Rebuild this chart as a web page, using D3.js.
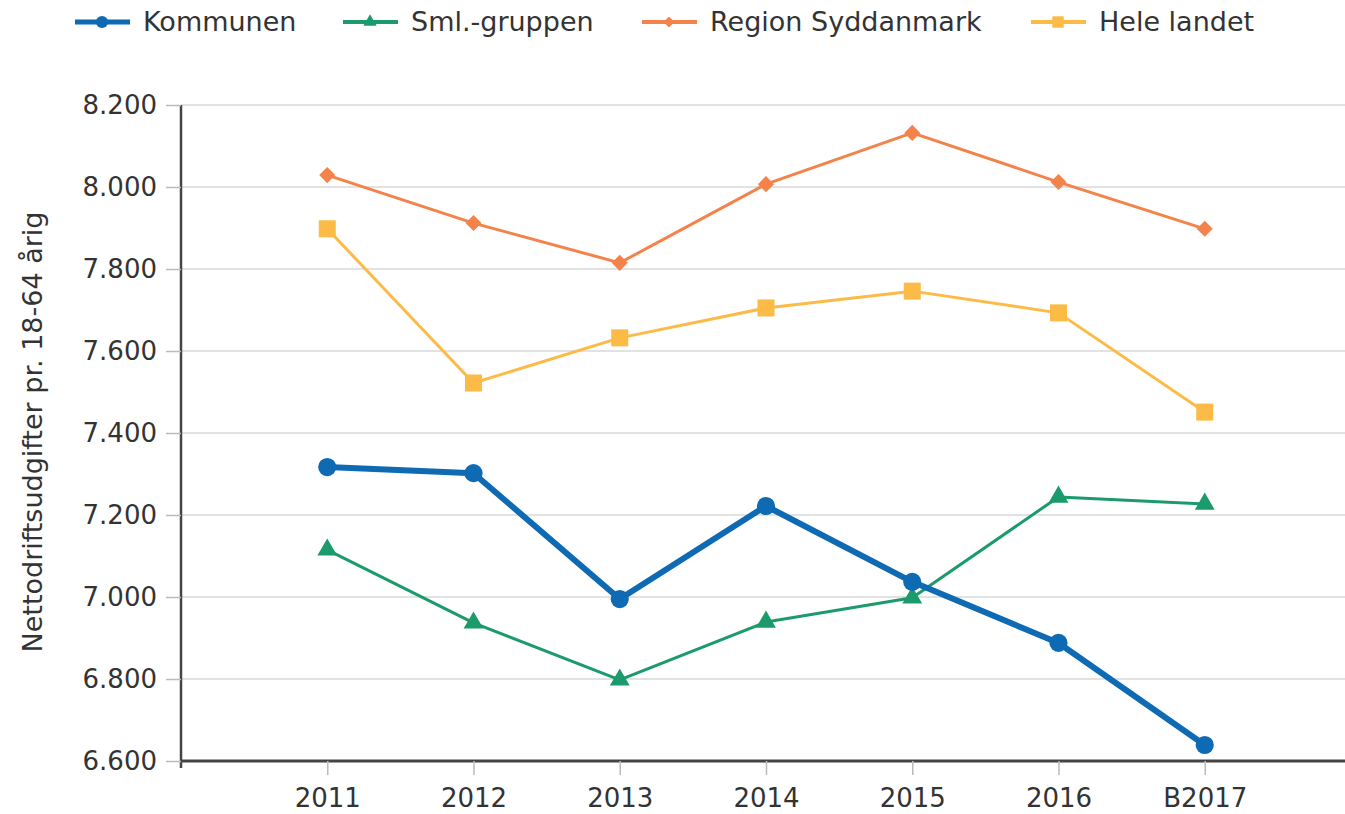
<!DOCTYPE html>
<html>
<head>
<meta charset="utf-8">
<script src="https://cdn.jsdelivr.net/npm/d3@7"></script>
<style>
  body { margin: 0; background: #fff; }
  text { font-family: "DejaVu Sans", Verdana, sans-serif; fill: #333; }
</style>
</head>
<body>
<svg width="1345" height="814"></svg>
<script>

const years = ["2011", "2012", "2013", "2014", "2015", "2016", "B2017"];

const kommunen = [7317, 7302, 6995, 7222, 7037, 6888, 6639];
const smlGruppen = [7115, 6937, 6798, 6939, 6998, 7244, 7227];
const regionSyd = [8029, 7912, 7815, 8007, 8132, 8012, 7898];
const heleLandet = [7898, 7522, 7632, 7705, 7746, 7693, 7451];

const yTicks = [6600, 6800, 7000, 7200, 7400, 7600, 7800, 8000, 8200];

const series = [
    { name: "Kommunen", values: kommunen, color: "#0e6ab3", width: 6, symbol: d3.symbolCircle, size: 260, legX: 75 },
    { name: "Sml.-gruppen", values: smlGruppen, color: "#1b9b6b", width: 3, symbol: d3.symbolTriangle, size: 170, legX: 343 },
    { name: "Region Syddanmark", values: regionSyd, color: "#f3834a", width: 3, symbol: d3.symbolDiamond2, size: 165, legX: 642 },
    { name: "Hele landet", values: heleLandet, color: "#fcbb47", width: 3, symbol: d3.symbolSquare, size: 290, legX: 1031 }
];

let svg = d3.select("svg");

let x = d3.scalePoint(years, [181, 1351]).padding(1);

let y = d3.scaleLinear()
    .domain([6600, 8200])
    .range([761, 105]);

// gridlines
svg.append("g")
    .selectAll("line").data(yTicks.slice(1))
  .join("line")
    .attr("x1", 181).attr("x2", 1345)
    .attr("y1", d => y(d)).attr("y2", d => y(d))
    .attr("stroke", "#e2e2e2")
    .attr("stroke-width", 2);

// y axis
let yAxis = svg.append("g")
    .attr("transform", "translate(181,0)")
    .call(d3.axisLeft(y).tickValues(yTicks).tickSize(15).tickPadding(9)
        .tickFormat(d => d3.format(",")(d).replace(",", ".")));
yAxis.select(".domain").attr("stroke", "#444").attr("stroke-width", 2.5)
    .attr("d", "M0,105V768");
yAxis.selectAll(".tick line").attr("stroke", "#bbb").attr("stroke-width", 1.5);
yAxis.selectAll(".tick text").style("font-size", "26px").attr("fill", "#333")
    .attr("font-family", null);

// x axis
let xAxis = svg.append("g")
    .attr("transform", "translate(0,761)")
    .call(d3.axisBottom(x).tickSize(14).tickPadding(14));
xAxis.select(".domain").attr("stroke", "#444").attr("stroke-width", 3)
    .attr("d", "M181,0H1345");
xAxis.selectAll(".tick line").attr("stroke", "#bbb").attr("stroke-width", 1.5);
xAxis.selectAll(".tick text").style("font-size", "26px").attr("fill", "#333")
    .attr("font-family", null);

// y title
svg.append("text")
    .attr("transform", "translate(42,432) rotate(-90)")
    .attr("text-anchor", "middle")
    .style("font-size", "27px")
    .text("Nettodriftsudgifter pr. 18-64 årig");

let line = d3.line()
    .x((d, i) => x(years[i]))
    .y(d => y(d));

// lines (drawn back to front so Kommunen is on top)
let order = [series[3], series[2], series[1], series[0]];
order.forEach(s => {
    let g = svg.append("g");
    g.append("path")
        .datum(s.values)
        .attr("d", line)
        .attr("fill", "none")
        .attr("stroke", s.color)
        .attr("stroke-width", s.width)
        .attr("stroke-linejoin", "round");
    g.selectAll("path.mark").data(s.values)
      .join("path")
        .attr("class", "mark")
        .attr("transform", (d, i) => `translate(${x(years[i])},${y(d)})`)
        .attr("d", d3.symbol(s.symbol, s.size))
        .attr("fill", s.color);
});

// legend
let leg = svg.append("g");
series.forEach(s => {
    let g = leg.append("g").attr("transform", `translate(${s.legX},22)`);
    g.append("line")
        .attr("x1", 0).attr("x2", 55)
        .attr("stroke", s.color)
        .attr("stroke-width", s.width == 6 ? 5 : 4);
    g.append("path")
        .attr("transform", "translate(27,0)")
        .attr("d", d3.symbol(s.symbol, s.size * 0.45))
        .attr("fill", s.color);
    g.append("text")
        .attr("x", 68)
        .attr("dy", "0.35em")
        .style("font-size", "27px")
        .text(s.name);
});

</script>
</body>
</html>
